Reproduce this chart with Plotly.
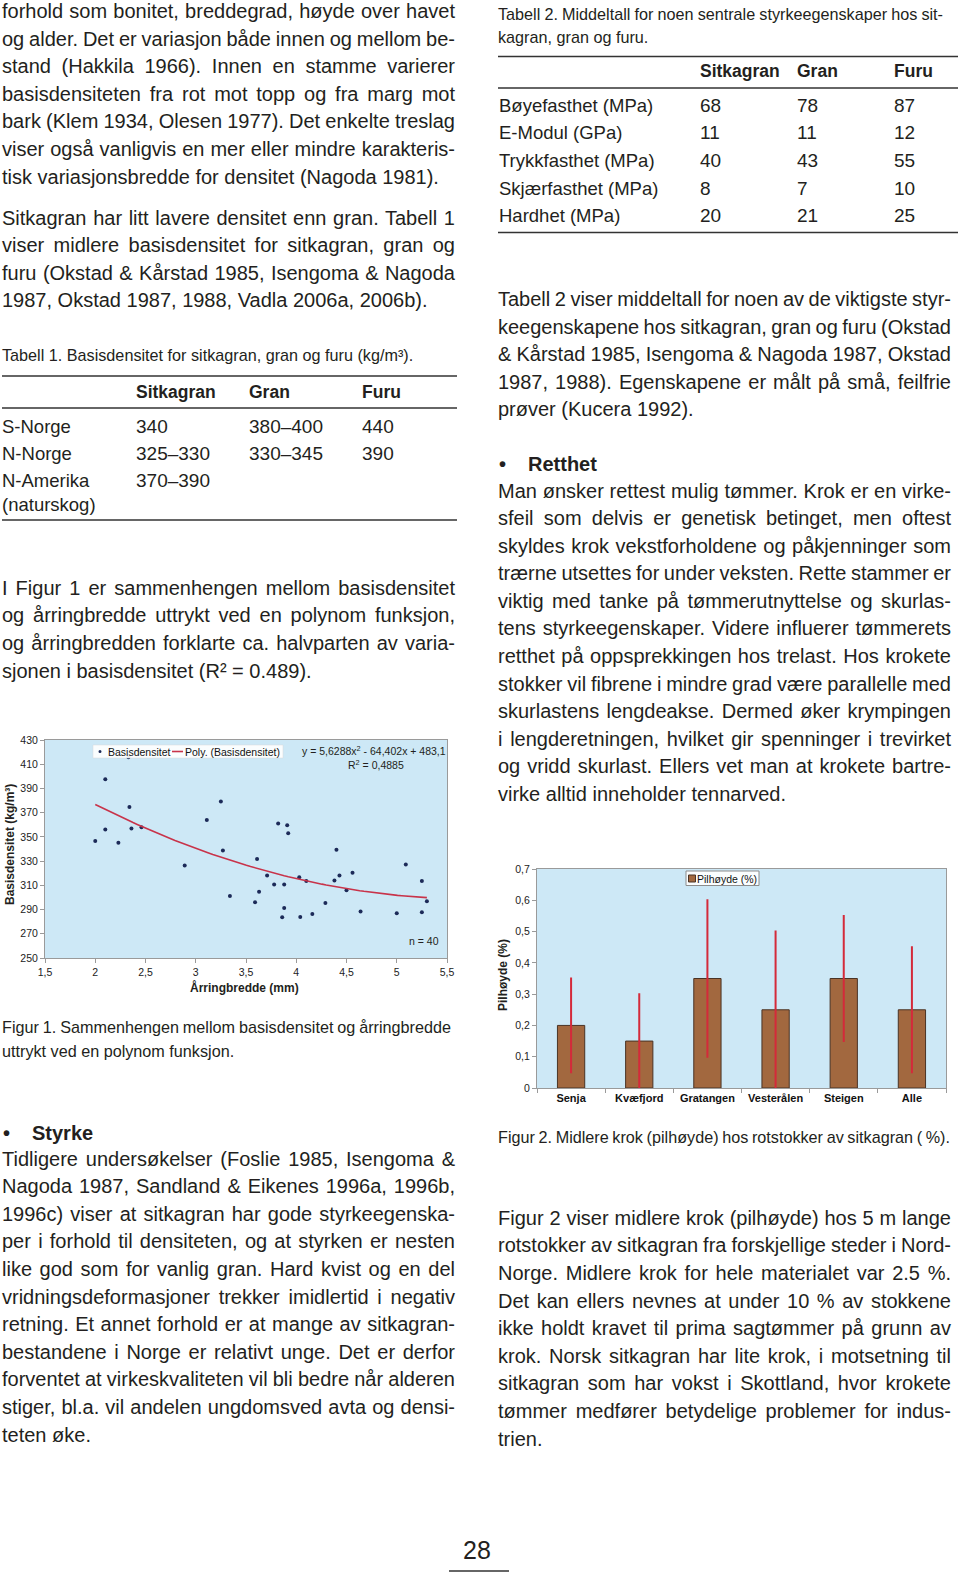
import json
import numpy as np
import plotly.graph_objects as go

W, H = 960, 1573
S = 1573 / 1568  # reading scale for positions taken from the shrunk view

def X(px):
    return px / W

def Y(py):
    return 1 - py / H

# ---------------- Figure 1 data ----------------
ring_width = [2.00, 2.10, 2.10, 2.23, 2.33, 2.34, 2.36, 2.46, 2.89, 3.11, 3.25, 3.27, 3.34,
              3.59, 3.61, 3.63, 3.71, 3.78, 3.82, 3.86, 3.88, 3.88, 3.91, 3.92, 4.03, 4.04,
              4.10, 4.16, 4.29, 4.38, 4.40, 4.43, 4.50, 4.56, 4.64, 5.00, 5.09, 5.25, 5.25, 5.30]
basis_density = [346.7, 397.5, 356.1, 345.1, 415.7, 374.6, 357.0, 358.0, 326.4, 364.0, 379.3,
                 338.8, 301.2, 296.0, 331.8, 304.8, 318.1, 310.6, 361.1, 283.6, 310.6, 291.3,
                 359.7, 353.1, 316.7, 283.9, 313.6, 286.4, 295.4, 314.0, 339.3, 318.1, 305.9,
                 320.3, 288.3, 286.9, 327.2, 313.6, 287.7, 296.8]
poly_coef = [5.6288, -64.402, 483.1]   # y = a x^2 + b x + c as printed on the chart
fig1_xticks = [1.5, 2, 2.5, 3, 3.5, 4, 4.5, 5, 5.5]
fig1_xticktext = ["1,5", "2", "2,5", "3", "3,5", "4", "4,5", "5", "5,5"]
fig1_yticks = [250, 270, 290, 310, 330, 350, 370, 390, 410, 430]

# ---------------- Figure 2 data ----------------
places = ["Senja", "Kvæfjord", "Gratangen", "Vesterålen", "Steigen", "Alle"]
pilhoyde = [0.20, 0.15, 0.35, 0.25, 0.35, 0.25]
err_plus = [0.15, 0.15, 0.25, 0.25, 0.20, 0.20]
err_minus = [0.15, 0.15, 0.25, 0.25, 0.20, 0.20]
fig2_yticks = [0, 0.1, 0.2, 0.3, 0.4, 0.5, 0.6, 0.7]
fig2_yticktext = ["0", "0,1", "0,2", "0,3", "0,4", "0,5", "0,6", "0,7"]

# ---------------- Tables ----------------
t1_cols = ["Sitkagran", "Gran", "Furu"]
t1_rows = ["S-Norge", "N-Norge", "N-Amerika<br>(naturskog)"]
t1_vals = [["340", "380–400", "440"], ["325–330", "330–345", "390"], ["370–390", "", ""]]
t2_cols = ["Sitkagran", "Gran", "Furu"]
t2_rows = ["Bøyefasthet (MPa)", "E-Modul (GPa)", "Trykkfasthet (MPa)", "Skjærfasthet (MPa)", "Hardhet (MPa)"]
t2_vals = [["68", "78", "87"], ["11", "11", "12"], ["40", "43", "55"], ["8", "7", "10"], ["20", "21", "25"]]

# ---------------- Body text ----------------
left_p1 = ["forhold som bonitet, breddegrad, høyde over havet",
           "og alder. Det er variasjon både innen og mellom be-",
           "stand (Hakkila 1966). Innen en stamme varierer",
           "basisdensiteten fra rot mot topp og fra marg mot",
           "bark (Klem 1934, Olesen 1977). Det enkelte treslag",
           "viser også vanligvis en mer eller mindre karakteris-",
           "tisk variasjonsbredde for densitet (Nagoda 1981)."]
left_p2 = ["Sitkagran har litt lavere densitet enn gran. Tabell 1",
           "viser midlere basisdensitet for sitkagran, gran og",
           "furu (Okstad & Kårstad 1985, Isengoma & Nagoda",
           "1987, Okstad 1987, 1988, Vadla 2006a, 2006b)."]
left_p3 = ["I Figur 1 er sammenhengen mellom basisdensitet",
           "og årringbredde uttrykt ved en polynom funksjon,",
           "og årringbredden forklarte ca. halvparten av varia-",
           "sjonen i basisdensitet (R² = 0.489)."]
left_p4 = ["Tidligere undersøkelser (Foslie 1985, Isengoma &",
           "Nagoda 1987, Sandland & Eikenes 1996a, 1996b,",
           "1996c) viser at sitkagran har gode styrkeegenska-",
           "per i forhold til densiteten, og at styrken er nesten",
           "like god som for vanlig gran. Hard kvist og en del",
           "vridningsdeformasjoner trekker imidlertid i negativ",
           "retning. Et annet forhold er at mange av sitkagran-",
           "bestandene i Norge er relativt unge. Det er derfor",
           "forventet at virkeskvaliteten vil bli bedre når alderen",
           "stiger, bl.a. vil andelen ungdomsved avta og densi-",
           "teten øke."]
right_p1 = ["Tabell 2 viser middeltall for noen av de viktigste styr-",
            "keegenskapene hos sitkagran, gran og furu (Okstad",
            "& Kårstad 1985, Isengoma & Nagoda 1987, Okstad",
            "1987, 1988). Egenskapene er målt på små, feilfrie",
            "prøver (Kucera 1992)."]
right_p2 = ["Man ønsker rettest mulig tømmer. Krok er en virke-",
            "sfeil som delvis er genetisk betinget, men oftest",
            "skyldes krok vekstforholdene og påkjenninger som",
            "trærne utsettes for under veksten. Rette stammer er",
            "viktig med tanke på tømmerutnyttelse og skurlas-",
            "tens styrkeegenskaper. Videre influerer tømmerets",
            "retthet på oppsprekkingen hos trelast. Hos krokete",
            "stokker vil fibrene i mindre grad være parallelle med",
            "skurlastens lengdeakse. Dermed øker krympingen",
            "i lengderetningen, hvilket gir spenninger i trevirket",
            "og vridd skurlast. Ellers vet man at krokete bartre-",
            "virke alltid inneholder tennarved."]
right_p3 = ["Figur 2 viser midlere krok (pilhøyde) hos 5 m lange",
            "rotstokker av sitkagran fra forskjellige steder i Nord-",
            "Norge. Midlere krok for hele materialet var 2.5 %.",
            "Det kan ellers nevnes at under 10 % av stokkene",
            "ikke holdt kravet til prima sagtømmer på grunn av",
            "krok. Norsk sitkagran har lite krok, i motsetning til",
            "sitkagran som har vokst i Skottland, hvor krokete",
            "tømmer medfører betydelige problemer for indus-",
            "trien."]

BODY = "Liberation Sans, Arial, sans-serif"
CHART = "Liberation Sans, Arial, sans-serif"
TXT = "#231f20"
BODY_SIZE = 20
CAP_SIZE = 16.2

fig = go.Figure()

# Figure 1 traces
fig.add_trace(go.Scatter(x=ring_width, y=basis_density, mode="markers", name="Basisdensitet",
                         marker=dict(size=4, color="#1c2a58"), xaxis="x", yaxis="y", showlegend=False))
xf = np.linspace(min(ring_width), max(ring_width), 80)
yf = np.polyval(poly_coef, xf)
fig.add_trace(go.Scatter(x=xf, y=yf, mode="lines", name="Poly. (Basisdensitet)",
                         line=dict(color="#c8334a", width=1.6), xaxis="x", yaxis="y", showlegend=False))

# Figure 2 trace
BAR_COLOR = "#a2683f"
BAR_EDGE = "#4a3325"
fig.add_trace(go.Bar(x=places, y=pilhoyde, name="Pilhøyde (%)", width=0.4,
                     marker=dict(color=BAR_COLOR, line=dict(color=BAR_EDGE, width=1)),
                     error_y=dict(type="data", symmetric=False, array=err_plus, arrayminus=err_minus,
                                  color="#d42a3a", thickness=2, width=1),
                     xaxis="x2", yaxis="y2", showlegend=False))

ann = []
justify = {}

def T(x, y, text, size=BODY_SIZE, bold=False, anchor="left", family=BODY, color=TXT, angle=0,
      width=None):
    if anchor == "left":
        x = x - 2
    elif anchor == "right":
        x = x + 2
    if width is not None:
        justify[len(ann)] = width
    ann.append(dict(x=X(x), y=Y(y), xref="paper", yref="paper",
                    text=("<b>%s</b>" % text) if bold else text,
                    showarrow=False, xanchor=anchor, yanchor="middle", textangle=angle,
                    align=anchor if anchor in ("left", "right") else "center",
                    font=dict(family=family, size=size, color=color)))

def para(lines, x, y0, width=453, step=27.5, size=BODY_SIZE):
    for i, ln in enumerate(lines):
        T(x, (y0 + i * step) * S, ln, size=size, width=width if i < len(lines) - 1 else None)

para(left_p1, 2, 11)
para(left_p2, 2, 217)
para(left_p3, 2, 586)
para(left_p4, 2, 1155)
para(right_p1, 498, 298)
para(right_p2, 498, 489)
para(right_p3, 498, 1214)

# headings
T(3, 1129 * S, "•", bold=True)
T(32, 1129 * S, "Styrke", bold=True)
T(499, 463 * S, "•", bold=True)
T(528, 463 * S, "Retthet", bold=True)

# captions
T(2, 355, "Tabell 1. Basisdensitet for sitkagran, gran og furu (kg/m³).", size=CAP_SIZE)
T(498, 14, "Tabell 2. Middeltall for noen sentrale styrkeegenskaper hos sit-", size=CAP_SIZE, width=445)
T(498, 37, "kagran, gran og furu.", size=CAP_SIZE)
T(2, 1024 * S, "Figur 1. Sammenhengen mellom basisdensitet og årringbredde", size=CAP_SIZE, width=449)
T(2, 1048 * S, "uttrykt ved en polynom funksjon.", size=CAP_SIZE)
T(498, 1133 * S, "Figur 2. Midlere krok (pilhøyde) hos rotstokker av sitkagran ( %).", size=CAP_SIZE, width=452)

# Table 1
t1_x = [136, 249, 362]
for cx, c in zip(t1_x, t1_cols):
    T(cx, 391.5, c, size=17.5, bold=True)
t1_y = [426, 453.5, 481]
for ry, rname, vals in zip(t1_y, t1_rows, t1_vals):
    if "<br>" in rname:
        a, b = rname.split("<br>")
        T(2, ry, a, size=18.5)
        T(2, ry + 23.5, b, size=18.5)
    else:
        T(2, ry, rname, size=18.5)
    for cx, v in zip(t1_x, vals):
        if v:
            T(cx, ry, v, size=19)

# Table 2
t2_x = [700, 797, 894]
for cx, c in zip(t2_x, t2_cols):
    T(cx, 71, c, size=17.5, bold=True)
t2_y = [105, 133, 160.5, 188, 215.5]
for ry, rname, vals in zip(t2_y, t2_rows, t2_vals):
    T(499, ry, rname, size=18.5)
    for cx, v in zip(t2_x, vals):
        T(cx, ry, v, size=19)

# page number
T(477, 1550, "28", size=25, anchor="center", family=CHART)

# Figure 1 texts
T(10, 845, "Basisdensitet (kg/m³)", size=12, bold=True, anchor="center", family=CHART, angle=-90)
T(245, 987, "Årringbredde (mm)", size=12, bold=True, anchor="center", family=CHART)
T(446, 750, "y = 5,6288x<sup>2</sup> - 64,402x + 483,1", size=10.5, anchor="right", family=CHART)
T(376, 764, "R<sup>2</sup> = 0,4885", size=10.5, anchor="center", family=CHART)
T(439, 941, "n = 40", size=10.5, anchor="right", family=CHART)
# Figure 1 legend texts
T(108, 751.5, "Basisdensitet", size=10.5, family=CHART, color="#111")
T(185, 751.5, "Poly. (Basisdensitet)", size=10.5, family=CHART, color="#111")
# Figure 2 texts
T(503, 975, "Pilhøyde (%)", size=12, bold=True, anchor="center", family=CHART, angle=-90)
T(697, 878.5, "Pilhøyde (%)", size=10.5, family=CHART, color="#111")

shapes = []

def hline(x0, x1, y, w=1.6, color="#333333"):
    shapes.append(dict(type="line", xref="paper", yref="paper", x0=X(x0), x1=X(x1), y0=Y(y), y1=Y(y),
                       line=dict(color=color, width=w)))

def rect(x0, y0, x1, y1, fill, line, lw=1):
    shapes.append(dict(type="rect", xref="paper", yref="paper", x0=X(x0), x1=X(x1), y0=Y(y0), y1=Y(y1),
                       fillcolor=fill, line=dict(color=line, width=lw), layer="above"))

hline(2, 457, 376)
hline(2, 457, 408)
hline(2, 457, 520)
hline(498, 958, 56.5)
hline(498, 958, 88)
hline(498, 958, 232.5)
hline(449, 509, 1571)

# legend boxes (drawn by hand to match the original compact layout)
rect(93, 745, 283, 758, "rgba(255,255,255,0.9)", "#d8d8d8", 0.5)
shapes.append(dict(type="circle", xref="paper", yref="paper", x0=X(98.5), x1=X(101.5),
                   y0=Y(750), y1=Y(753), fillcolor="#1c2a58", line=dict(width=0), layer="above"))
shapes.append(dict(type="line", xref="paper", yref="paper", x0=X(172), x1=X(183), y0=Y(751.5),
                   y1=Y(751.5), line=dict(color="#c8334a", width=1.6), layer="above"))
rect(686, 871, 759, 885.5, "rgba(255,255,255,0.9)", "#8c8c8c", 1)
rect(688.5, 875, 695.5, 882, BAR_COLOR, BAR_EDGE, 1)

axis_common = dict(showgrid=False, zeroline=False, showline=True, mirror=True, linecolor="#9a9a9a",
                   linewidth=1, ticks="outside", ticklen=4, tickcolor="#9a9a9a", automargin=False,
                   tickfont=dict(family=CHART, size=10.5, color="#222"))

fig.update_layout(
    template="none",
    font=dict(family=CHART, color=TXT),
    width=W, height=H, margin=dict(l=0, r=0, t=0, b=0, pad=0, autoexpand=False), autosize=False,
    paper_bgcolor="white", plot_bgcolor="#cde8f6", showlegend=False,
    xaxis=dict(domain=[X(45), X(447)], range=[1.5, 5.5], tickvals=fig1_xticks, ticktext=fig1_xticktext,
               anchor="y", **axis_common),
    yaxis=dict(domain=[Y(958), Y(740)], range=[250, 430], tickvals=fig1_yticks, anchor="x", **axis_common),
    xaxis2=dict(domain=[X(537), X(946)], type="category", tickson="boundaries", anchor="y2",
                tickvals=places, ticktext=["<b>%s</b>" % p for p in places],
                **{k: v for k, v in axis_common.items() if k != "tickfont"},
                tickfont=dict(family=CHART, size=11, color="#111")),
    yaxis2=dict(domain=[Y(1088), Y(869)], range=[0, 0.7], tickvals=fig2_yticks, ticktext=fig2_yticktext,
                anchor="x2", **axis_common),
    annotations=ann, shapes=shapes,
)

post = """
document.body.style.margin = '0';
document.body.style.padding = '0';
document.documentElement.style.overflow = 'hidden';
var J = %s;
document.querySelectorAll('g.annotation').forEach(function (g) {
  var i = g.getAttribute('data-index');
  if (!(i in J)) return;
  var t = g.querySelector('text.annotation-text');
  if (!t) return;
  var n = (t.textContent.match(/ /g) || []).length;
  if (!n) return;
  var w = t.getComputedTextLength();
  t.style.wordSpacing = ((J[i] - w) / n) + 'px';
});
""" % json.dumps({str(k): v for k, v in justify.items()})

fig.write_html("out.html", config={"displayModeBar": False}, post_script=post)
